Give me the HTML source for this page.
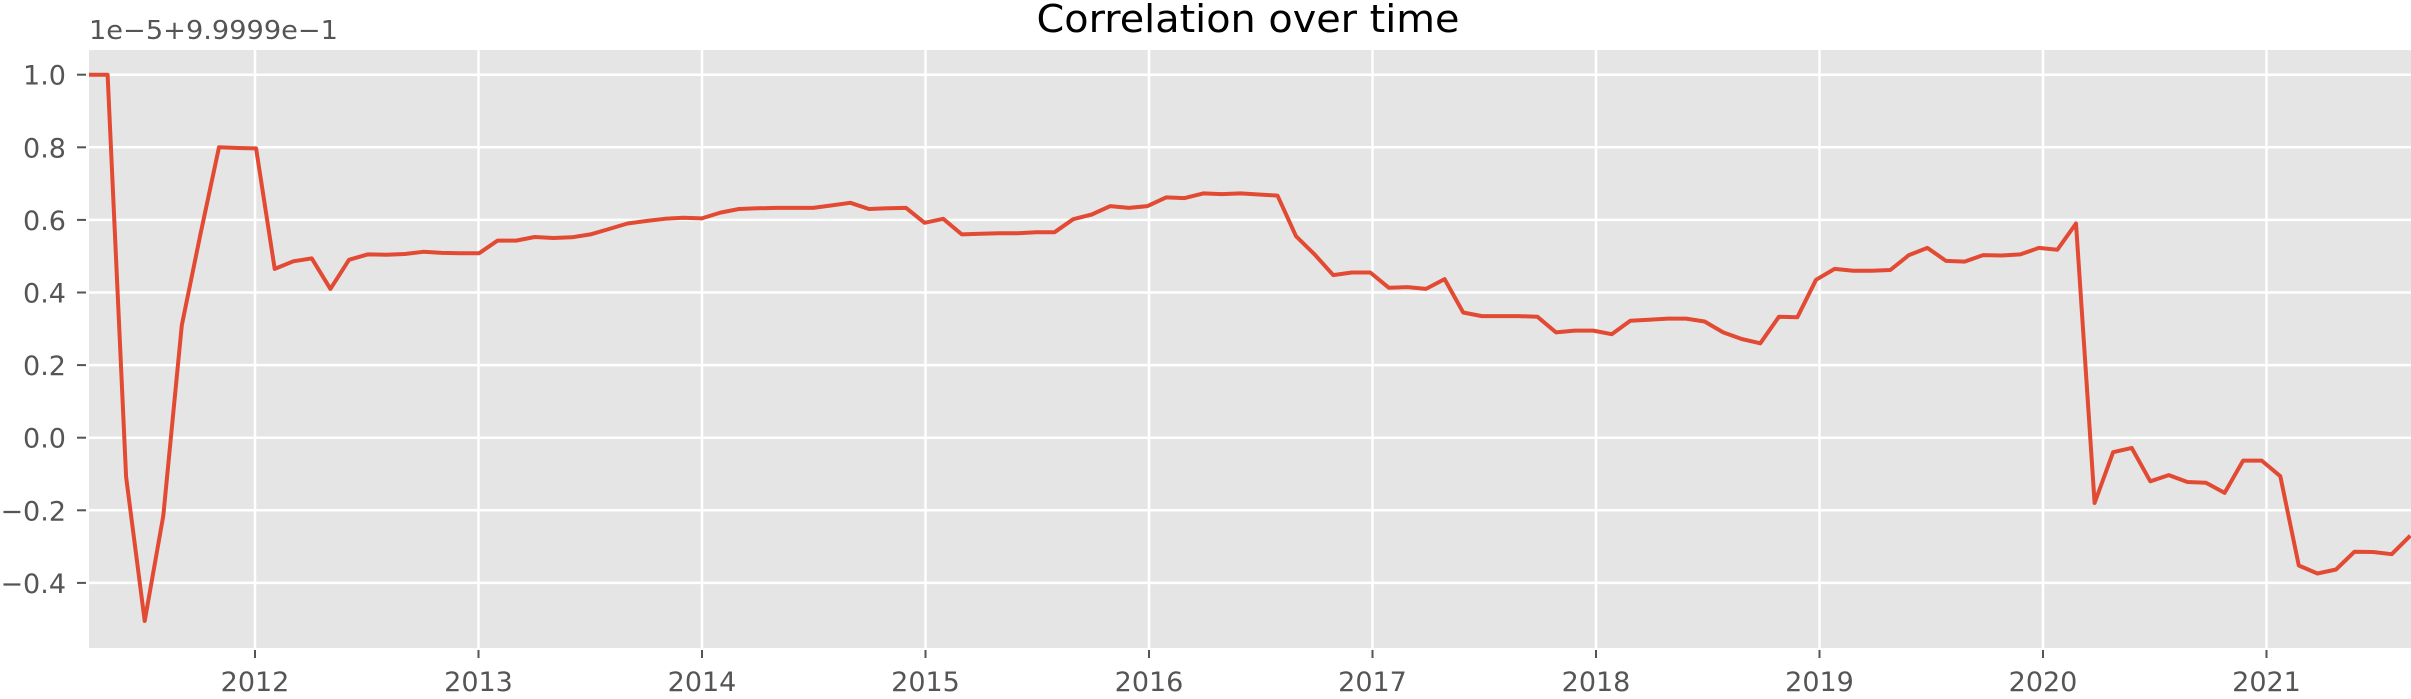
<!DOCTYPE html>
<html><head><meta charset="utf-8"><style>
html,body{margin:0;padding:0;background:#fff;}
svg{display:block;font-family:"DejaVu Sans","Liberation Sans",sans-serif;}
</style></head><body>
<svg id="chart" width="2411" height="699" viewBox="0 0 2411 699">
<text x="1248" y="32" text-anchor="middle" font-size="38" textLength="423" lengthAdjust="spacingAndGlyphs" fill="#000">Correlation over time</text>
<rect x="89" y="50" width="2322" height="598" fill="#e5e5e5"/>
<g id="grid"></g>
<g id="ticks"></g>
<text x="89" y="39" font-size="26" textLength="249" lengthAdjust="spacingAndGlyphs" fill="#555">1e−5+9.9999e−1</text>
<g id="series"></g>
</svg>
<script>
const yTicks=[1.0,0.8,0.6,0.4,0.2,0.0,-0.2,-0.4];
const yTickLabels=["1.0","0.8","0.6","0.4","0.2","0.0","−0.2","−0.4"];
const xYears=[2012,2013,2014,2015,2016,2017,2018,2019,2020,2021];
const values=[1.0,1.0,-0.108,-0.505,-0.215,0.31,0.56,0.80,0.798,0.797,
0.465,0.486,0.494,0.41,0.49,0.505,0.504,0.506,0.512,0.509,0.508,0.508,
0.543,0.543,0.553,0.55,0.552,0.56,0.575,0.59,0.597,0.603,0.606,0.604,
0.62,0.63,0.632,0.633,0.633,0.633,0.64,0.647,0.63,0.632,0.633,0.592,
0.603,0.56,0.562,0.563,0.563,0.566,0.566,0.602,0.615,0.638,0.633,0.638,
0.662,0.66,0.673,0.671,0.673,0.67,0.667,0.555,0.505,0.448,0.455,0.455,
0.413,0.415,0.41,0.437,0.345,0.335,0.335,0.335,0.333,0.29,0.295,0.295,
0.285,0.322,0.325,0.328,0.328,0.32,0.29,0.272,0.26,0.333,0.332,0.435,
0.465,0.46,0.46,0.462,0.503,0.523,0.487,0.485,0.503,0.502,0.505,0.523,
0.518,0.59,-0.18,-0.04,-0.028,-0.12,-0.103,-0.122,-0.124,-0.152,-0.063,-0.063,
-0.106,-0.352,-0.374,-0.363,-0.314,-0.315,-0.321,-0.27];
const NS="http://www.w3.org/2000/svg";
const X0=89, STEP=18.57;
function xIdx(i){return X0+i*STEP;}
function xYear(y){return 255+(y-2012)*223.5;}
function yv(v){return 437.7-v*363;}
const grid=document.getElementById('grid'),ticks=document.getElementById('ticks'),series=document.getElementById('series');
yTicks.forEach((t,k)=>{
 const y=yv(t);
 const l=document.createElementNS(NS,'line');
 l.setAttribute('x1',89);l.setAttribute('x2',2411);l.setAttribute('y1',y);l.setAttribute('y2',y);
 l.setAttribute('stroke','#fff');l.setAttribute('stroke-width','2.5');
 
 
 grid.appendChild(l);
 const tk=document.createElementNS(NS,'line');
 tk.setAttribute('x1',77);tk.setAttribute('x2',86);tk.setAttribute('y1',y);tk.setAttribute('y2',y);
 tk.setAttribute('stroke','#555');tk.setAttribute('stroke-width','2');
 
 
 ticks.appendChild(tk);
 const tx=document.createElementNS(NS,'text');
 tx.setAttribute('x',66);tx.setAttribute('y',y+10);tx.setAttribute('text-anchor','end');
 tx.setAttribute('font-size','27');tx.setAttribute('fill','#555');
 tx.textContent=yTickLabels[k];
 
 
 ticks.appendChild(tx);
});
xYears.forEach(yr=>{
 const x=xYear(yr);
 const l=document.createElementNS(NS,'line');
 l.setAttribute('x1',x);l.setAttribute('x2',x);l.setAttribute('y1',50);l.setAttribute('y2',648);
 l.setAttribute('stroke','#fff');l.setAttribute('stroke-width','2.5');
 
 
 grid.appendChild(l);
 const tk=document.createElementNS(NS,'line');
 tk.setAttribute('x1',x);tk.setAttribute('x2',x);tk.setAttribute('y1',650);tk.setAttribute('y2',658);
 tk.setAttribute('stroke','#555');tk.setAttribute('stroke-width','2');
 
 
 ticks.appendChild(tk);
 const tx=document.createElementNS(NS,'text');
 tx.setAttribute('x',x);tx.setAttribute('y',691);tx.setAttribute('text-anchor','middle');
 tx.setAttribute('font-size','27');tx.setAttribute('fill','#555');
 tx.textContent=String(yr);
 
 
 ticks.appendChild(tx);
});
const pts=values.map((v,i)=>xIdx(i).toFixed(1)+','+yv(v).toFixed(1)).join(' ');
const pl=document.createElementNS(NS,'polyline');
pl.setAttribute('points',pts);pl.setAttribute('fill','none');pl.setAttribute('stroke','#E24A33');
pl.setAttribute('stroke-width','4');pl.setAttribute('stroke-linejoin','round');


series.appendChild(pl);
</script>
</body></html>
